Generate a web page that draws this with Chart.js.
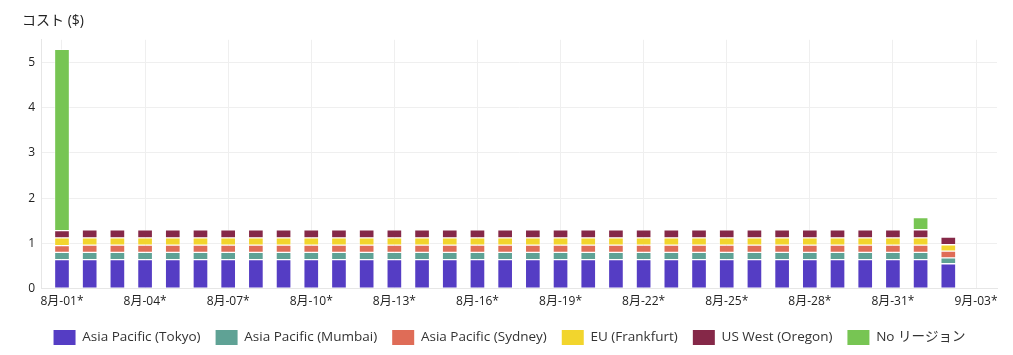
<!DOCTYPE html>
<html><head><meta charset="utf-8">
<script src="https://cdn.jsdelivr.net/npm/chart.js@4/dist/chart.umd.min.js"></script>
<style>html,body{margin:0;padding:0;background:#fff}#wrap{width:1013px;height:355px;position:relative}</style>
</head><body><div id="wrap"><canvas id="c"></canvas></div>
<script>
const categories = ['8月-01*','8月-02*','8月-03*','8月-04*','8月-05*','8月-06*','8月-07*','8月-08*','8月-09*','8月-10*','8月-11*','8月-12*','8月-13*','8月-14*','8月-15*','8月-16*','8月-17*','8月-18*','8月-19*','8月-20*','8月-21*','8月-22*','8月-23*','8月-24*','8月-25*','8月-26*','8月-27*','8月-28*','8月-29*','8月-30*','8月-31*','9月-01*','9月-02*','9月-03*'];
const seriesNames = ['Asia Pacific (Tokyo)','Asia Pacific (Mumbai)','Asia Pacific (Sydney)','EU (Frankfurt)','US West (Oregon)','No リージョン'];
const tokyo     = [0.64,0.64,0.64,0.64,0.64,0.64,0.64,0.64,0.64,0.64,0.64,0.64,0.64,0.64,0.64,0.64,0.64,0.64,0.64,0.64,0.64,0.64,0.64,0.64,0.64,0.64,0.64,0.64,0.64,0.64,0.64,0.64,0.55,null];
const mumbai    = [0.16,0.16,0.16,0.16,0.16,0.16,0.16,0.16,0.16,0.16,0.16,0.16,0.16,0.16,0.16,0.16,0.16,0.16,0.16,0.16,0.16,0.16,0.16,0.16,0.16,0.16,0.16,0.16,0.16,0.16,0.16,0.16,0.13,null];
const sydney    = [0.15,0.16,0.16,0.16,0.16,0.16,0.16,0.16,0.16,0.16,0.16,0.16,0.16,0.16,0.16,0.16,0.16,0.16,0.16,0.16,0.16,0.16,0.16,0.16,0.16,0.16,0.16,0.16,0.16,0.16,0.16,0.16,0.15,null];
const frankfurt = [0.17,0.16,0.16,0.16,0.16,0.16,0.16,0.16,0.16,0.16,0.16,0.16,0.16,0.16,0.16,0.16,0.16,0.16,0.16,0.16,0.16,0.16,0.16,0.16,0.16,0.16,0.16,0.16,0.16,0.16,0.16,0.16,0.14,null];
const oregon    = [0.16,0.18,0.18,0.18,0.18,0.18,0.18,0.18,0.18,0.18,0.18,0.18,0.18,0.18,0.18,0.18,0.18,0.18,0.18,0.18,0.18,0.18,0.18,0.18,0.18,0.18,0.18,0.18,0.18,0.18,0.18,0.18,0.17,null];
const noRegion  = [4.01,0,0,0,0,0,0,0,0,0,0,0,0,0,0,0,0,0,0,0,0,0,0,0,0,0,0,0,0,0,0,0.27,0,null];
const yTicks = [0,1,2,3,4,5];
const colors = ['#553dc4','#5fa295','#df6c57','#f2d52d','#852848','#77c553'];

const seriesValues = [tokyo, mumbai, sydney, frankfurt, oregon, noRegion];
const FONT = "'Open Sans','Noto Sans CJK JP',sans-serif";
const datasets = seriesNames.map((name, k) => ({
  label: name,
  data: seriesValues[k].map((v, i) => ({x: i, y: v})),
  backgroundColor: colors[k],
  borderColor: 'rgba(255,255,255,0.45)',
  borderWidth: 1,
  borderSkipped: false,
  barThickness: 15
}));

new Chart(document.getElementById('c'), {
  type: 'bar',
  data: { datasets },
  options: {
    responsive: true,
    maintainAspectRatio: false,
    animation: false,
    layout: { padding: { left: 22, right: 16, top: 0, bottom: 0 } },
    plugins: {
      title: { display: true, text: 'コスト ($)', align: 'start', color: '#222',
        font: { family: FONT, size: 14, weight: 'normal' }, padding: { top: 13, bottom: 10 } },
      legend: { position: 'bottom',
        labels: { color: '#333', font: { family: FONT, size: 13.5 }, boxWidth: 22, boxHeight: 15, padding: 15,
          generateLabels: (chart) => chart.data.datasets.map((d, i) => ({
            text: d.label, fillStyle: d.backgroundColor, strokeStyle: d.backgroundColor, lineWidth: 0,
            hidden: false, datasetIndex: i, fontColor: '#333' })) } },
      tooltip: { enabled: false }
    },
    scales: {
      x: { type: 'linear', stacked: true, offset: false, min: -0.758, max: categories.length - 1 + 0.758,
        afterBuildTicks: (s) => { s.ticks = categories.map((c, i) => ({ value: i })).filter(t => t.value % 3 === 0); },
        ticks: { autoSkip: false, maxRotation: 0, color: '#222', font: { family: FONT, size: 12 }, padding: 6,
          callback: (v) => categories[v] },
        grid: { color: '#efefef', drawTicks: false, offset: false },
        border: { display: true, color: '#e6e6e6' } },
      y: { stacked: true, min: 0, max: 5.5,
        afterBuildTicks: (s) => { s.ticks = yTicks.map(v => ({ value: v })); },
        afterFit: (s) => { s.width = 19; },
        ticks: { color: '#222', font: { family: FONT, size: 12 }, padding: 6 },
        grid: { color: '#efefef', drawTicks: false },
        border: { display: true, color: '#e6e6e6' } }
    }
  }
});
</script></body></html>
